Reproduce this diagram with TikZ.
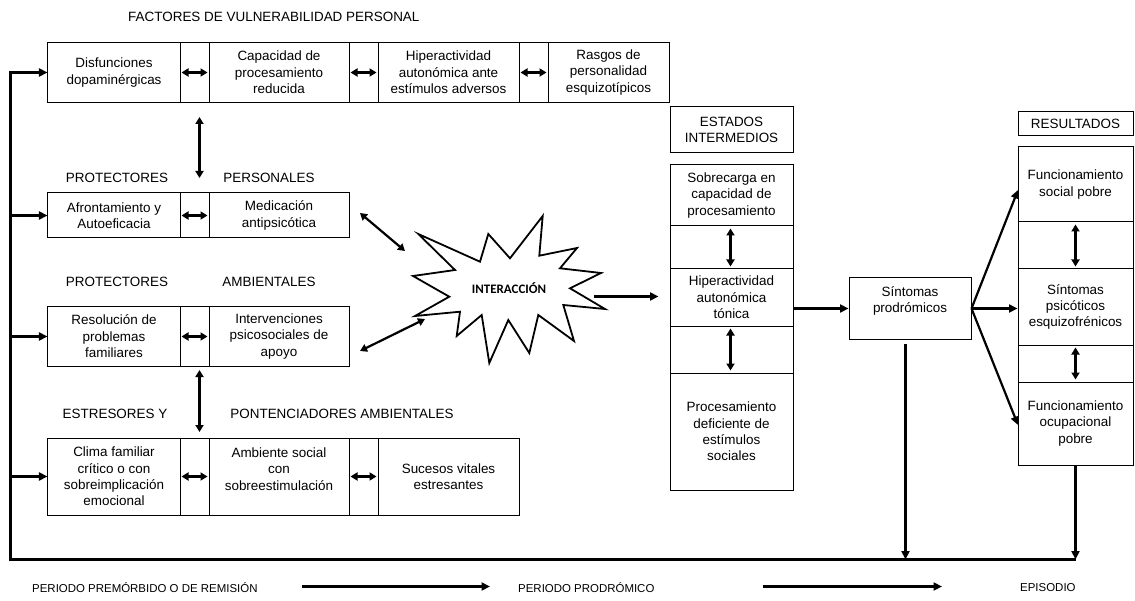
\documentclass[tikz,border=0pt]{standalone}
\usepackage{fontspec}
\setmainfont{Liberation Sans}
\newfontfamily\starfont{Carlito}
\usetikzlibrary{arrows.meta}
\newcommand\bx{\fontsize{13.5}{16.5}\selectfont}
\newcommand\tl{\fontsize{11.5}{13}\selectfont}

\begin{document}
\begin{tikzpicture}[x=1bp,y=-1bp,
  cell/.style={draw, line width=1bp, inner sep=0pt, align=center, font=\bx},
  lbl/.style={inner sep=0pt, font=\bx},
  tlbl/.style={inner sep=0pt, font=\tl, anchor=west},
  conn/.style={line width=2.2bp, -{Triangle[length=8.5bp,width=8bp]}},
  dbl/.style={line width=2.2bp, {Triangle[length=7bp,width=8bp]}-{Triangle[length=7bp,width=8bp]}},
  starline/.style={line width=1.8bp, line join=miter}]
\useasboundingbox (0,0) rectangle (1135,601);

% ---- vulnerability factors
\node[lbl, anchor=west] (tit) at (128,17) {FACTORES DE VULNERABILIDAD PERSONAL};
\node[cell, minimum width=132bp, minimum height=60bp] (d1) at (114,72.5) {Disfunciones\\dopaminérgicas};
\node[cell, minimum width=29bp,  minimum height=60bp] (dg1) at (194.5,72.5) {};
\node[cell, minimum width=140bp, minimum height=60bp] (d2) at (279,72.5) {Capacidad de\\procesamiento\\reducida};
\node[cell, minimum width=29bp,  minimum height=60bp] (dg2) at (363.5,72.5) {};
\node[cell, minimum width=141bp, minimum height=60bp] (d3) at (448.5,72.5) {Hiperactividad\\autonómica ante\\estímulos adversos};
\node[cell, minimum width=29bp,  minimum height=60bp] (dg3) at (533.5,72.5) {};
\node[cell, minimum width=121bp, minimum height=60bp] (d4) at (608.5,72.5) {Rasgos de\\personalidad\\esquizotípicos};
\foreach \g in {dg1,dg2,dg3}
  \draw[dbl, shorten <=2bp, shorten >=2bp] (\g.west) -- (\g.east);

\coordinate (v1a) at (199.5,117);
\coordinate (v1b) at (199.5,178);
\draw[dbl] (v1a) -- (v1b);

% ---- personal protectors
\node[lbl] (pp1) at (117,178) {PROTECTORES};
\node[lbl] (pp2) at (269,178) {PERSONALES};
\node[cell, minimum width=132bp, minimum height=45bp] (a1) at (114,215.5) {Afrontamiento y\\Autoeficacia};
\node[cell, minimum width=29bp,  minimum height=45bp] (ag) at (194.5,215.5) {};
\node[cell, minimum width=140bp, minimum height=45bp] (a2) at (279,215.5) {Medicación\\antipsicótica};
\draw[dbl, shorten <=2bp, shorten >=2bp] (ag.west) -- (ag.east);

% ---- environmental protectors
\node[lbl] (pa1) at (117,282) {PROTECTORES};
\node[lbl] (pa2) at (269,282) {AMBIENTALES};
\node[cell, minimum width=132bp, minimum height=60bp] (b1) at (114,336.5) {Resolución de\\problemas\\familiares};
\node[cell, minimum width=29bp,  minimum height=60bp] (bg) at (194.5,336.5) {};
\node[cell, minimum width=140bp, minimum height=60bp] (b2) at (279,336.5) {Intervenciones\\psicosociales de\\apoyo};
\draw[dbl, shorten <=2bp, shorten >=2bp] (bg.west) -- (bg.east);

\coordinate (v2a) at (199.5,370);
\coordinate (v2b) at (199.5,432);
\draw[dbl] (v2a) -- (v2b);

% ---- stressors
\node[lbl] (ep1) at (115,414) {ESTRESORES Y};
\node[lbl] (ep2) at (342,414) {PONTENCIADORES AMBIENTALES};
\node[cell, minimum width=132bp, minimum height=77bp] (c1) at (114,476.5) {Clima familiar\\crítico o con\\sobreimplicación\\emocional};
\node[cell, minimum width=29bp,  minimum height=77bp] (cg1) at (194.5,476.5) {};
\node[cell, minimum width=140bp, minimum height=77bp] (c2) at (279,476.5) {};
\node[lbl, align=center] (c2t) at (279,469) {Ambiente social\\con\\sobreestimulación};
\node[cell, minimum width=29bp,  minimum height=77bp] (cg2) at (363.5,476.5) {};
\node[cell, minimum width=141bp, minimum height=77bp] (c3) at (448.5,476.5) {Sucesos vitales\\estresantes};
\foreach \g in {cg1,cg2}
  \draw[dbl, shorten <=2bp, shorten >=2bp] (\g.west) -- (\g.east);

% ---- interaction burst
\draw[starline] (418.3,234) -- (480,261.7) -- (488.3,234) -- (510,258.3)
  -- (542.7,216) -- (539.3,255.7) -- (577,248) -- (560,268.3)
  -- (601,273) -- (570,288.3) -- (605,309) -- (563.3,305)
  -- (574,341) -- (538.3,315) -- (529.3,353) -- (508.3,320)
  -- (489.3,363) -- (481.7,315) -- (456.7,336) -- (460,311.7)
  -- (415,316) -- (449.3,296.7) -- (413,276) -- (455,270) -- cycle;
\node[inner sep=0pt, font=\starfont\bfseries\fontsize{13}{15}\selectfont] (inter) at (509,288) {INTERACCIÓN};

\coordinate (s1a) at (360,213);
\coordinate (s1b) at (405,251);
\draw[dbl] (s1a) -- (s1b);
\coordinate (s2a) at (360,351);
\coordinate (s2b) at (425,319);
\draw[dbl] (s2a) -- (s2b);

% ---- intermediate states
\node[cell, minimum width=123bp, minimum height=46bp] (eh) at (731.5,130) {ESTADOS\\INTERMEDIOS};
\node[cell, minimum width=123bp, minimum height=61bp] (e1) at (731.5,195.5) {Sobrecarga en\\capacidad de\\procesamiento};
\node[cell, minimum width=123bp, minimum height=43bp] (e2) at (731.5,247.5) {};
\node[cell, minimum width=123bp, minimum height=57bp] (e3) at (731.5,297.5) {Hiperactividad\\autonómica\\tónica};
\node[cell, minimum width=123bp, minimum height=47bp] (e4) at (731.5,349.5) {};
\node[cell, minimum width=123bp, minimum height=117bp] (e5) at (731.5,431.5) {Procesamiento\\deficiente de\\estímulos\\sociales};
\foreach \g in {e2,e4}
  \draw[dbl, shorten <=3bp, shorten >=3bp] ([xshift=-1bp]\g.north) -- ([xshift=-1bp]\g.south);

\coordinate (s3a) at (594,296.5);
\draw[conn] (s3a) -- ([xshift=-11bp]s3a -| e3.west);

% ---- prodromal symptoms
\node[cell, minimum width=122bp, minimum height=61bp] (sp) at (910,308.5) {};
\node[lbl, align=center] (spt) at (910,301) {Síntomas\\prodrómicos};
\draw[conn] (sp.west -| e3.east) -- (sp.west);

% ---- results
\node[cell, minimum width=115bp, minimum height=24bp] (rh) at (1075.5,124) {RESULTADOS};
\node[cell, minimum width=115bp, minimum height=75bp] (r1) at (1075.5,184.5) {Funcionamiento\\social pobre};
\node[cell, minimum width=115bp, minimum height=47bp] (r2) at (1075.5,245.5) {};
\node[cell, minimum width=115bp, minimum height=76bp] (r3) at (1075.5,307) {Síntomas\\psicóticos\\esquizofrénicos};
\node[cell, minimum width=115bp, minimum height=37bp] (r4) at (1075.5,363.5) {};
\node[cell, minimum width=115bp, minimum height=83bp] (r5) at (1075.5,423.5) {Funcionamiento\\ocupacional\\pobre};
\foreach \g in {r2,r4}
  \draw[dbl, shorten <=3bp, shorten >=3bp] (\g.north) -- (\g.south);

\coordinate (rt1) at (1018,190);
\coordinate (rt3) at (1018,425);
\draw[conn] (sp.east) -- (rt1);
\draw[conn] (sp.east) -- (sp.east -| r3.west);
\draw[conn] (sp.east) -- (rt3);

% ---- feedback loop along the bottom and left
\coordinate (fbL) at (10.5,559.5);
\coordinate (fbR) at (1075.5,559.5);
\draw[conn, line join=miter] (fbR) -- (fbL) -- (fbL |- d1.west) -- (d1.west);
\draw[conn] (fbL |- a1.west) -- (a1.west);
\draw[conn] (fbL |- b1.west) -- (b1.west);
\draw[conn] (fbL |- c1.west) -- (c1.west);
\coordinate (sdrop) at (905.5,344);
\draw[conn] (sdrop) -- (sdrop |- fbL);
\draw[conn] (r5.south) -- (r5.south |- fbL);

% ---- time line
\node[tlbl] (t1) at (32,588) {PERIODO PREMÓRBIDO O DE REMISIÓN};
\coordinate (ta1) at (302,586.5);
\coordinate (ta2) at (490,586.5);
\draw[conn] (ta1) -- (ta2);
\node[tlbl] (t2) at (518,588) {PERIODO PRODRÓMICO};
\coordinate (tb1) at (763,586.5);
\coordinate (tb2) at (942,586.5);
\draw[conn] (tb1) -- (tb2);
\node[tlbl] (t3) at (1020,588) {EPISODIO};
\end{tikzpicture}
\end{document}
